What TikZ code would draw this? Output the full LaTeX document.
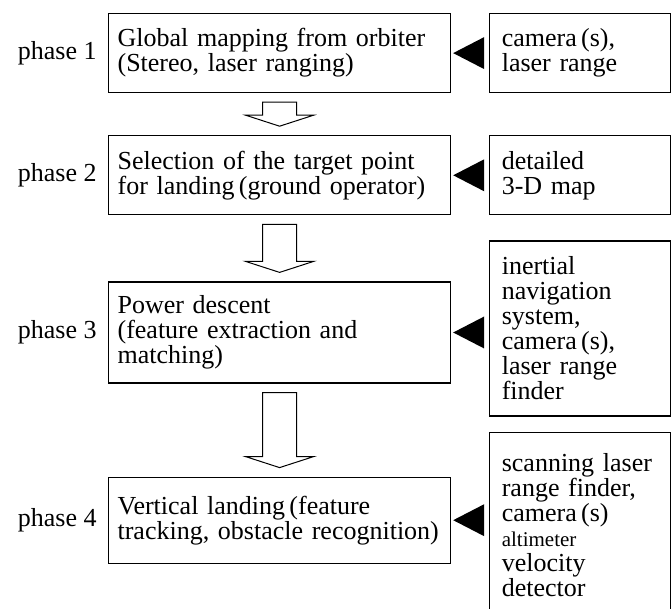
\documentclass[tikz,border=0pt]{standalone}
\usepackage{fontspec}
\setmainfont{Liberation Serif}
\usetikzlibrary{positioning,calc}
\tikzset{
  mainbox/.style={draw, line width=0.6pt, rectangle, align=left, text width=162pt, inner xsep=4.5pt, inner ysep=6pt, font=\fontsize{13}{12.5}\selectfont},
  srcbox/.style={draw, line width=0.6pt, rectangle, align=left, text width=78.5pt, inner xsep=6pt, inner ysep=6pt, font=\fontsize{13}{12.5}\selectfont},
  phaselbl/.style={inner sep=0pt, font=\fontsize{13}{12.5}\selectfont},
  hollow/.style={draw, line width=0.5pt, fill=white},
  feed/.style={fill=black}
}

\begin{document}
\begin{tikzpicture}
  \clip (0,0) rectangle (335.5pt,-304.5pt);
  % phases
  \node[mainbox, anchor=north west, minimum height=39.5pt] (b1) at (54pt,-6.5pt) {Global mapping from orbiter\\(Stereo, laser ranging)};
  \node[mainbox, below=21pt of b1, minimum height=39.5pt] (b2) {Selection of the target point\\for landing\,(ground operator)};
  \node[mainbox, below=33pt of b2, minimum height=50.5pt] (b3) {Power descent\\(feature extraction and\\matching)};
  \node[mainbox, below=46.5pt of b3, minimum height=43pt] (b4) {Vertical landing\,(feature\\tracking, obstacle recognition)};
  \node[phaselbl, left=5.5pt of b1] (p1) {phase 1};
  \node[phaselbl, left=5.5pt of b2] (p2) {phase 2};
  \node[phaselbl, left=5.5pt of b3] (p3) {phase 3};
  \node[phaselbl, left=5.5pt of b4] (p4) {phase 4};
  % sensors
  \node[srcbox, right=19pt of b1, minimum height=39.5pt] (r1) {camera\,(s),\\laser range};
  \node[srcbox, right=19pt of b2, minimum height=39.5pt] (r2) {detailed\\3-D map};
  \node[srcbox, right=19pt of b3, minimum height=87.5pt, yshift=2pt] (r3) {inertial\\navigation\\system,\\camera\,(s),\\laser range\\finder};
  \node[srcbox, right=19pt of b4, minimum height=93pt, yshift=-2.5pt] (r4) {scanning laser\\range finder,\\camera\,(s)\\{\fontsize{10.5}{12.5}\selectfont altimeter}\\velocity\\detector};
  % inputs
  \fill[feed] ($(b1.east)+(1pt,0)$) -- ($(b1.east -| r1.west)+(-2.5pt,8pt)$) -- ($(b1.east -| r1.west)+(-2.5pt,-8pt)$) -- cycle;
  \fill[feed] ($(b2.east)+(1pt,0)$) -- ($(b2.east -| r2.west)+(-2.5pt,8pt)$) -- ($(b2.east -| r2.west)+(-2.5pt,-8pt)$) -- cycle;
  \fill[feed] ($(b3.east)+(1pt,0)$) -- ($(b3.east -| r3.west)+(-2.5pt,8pt)$) -- ($(b3.east -| r3.west)+(-2.5pt,-8pt)$) -- cycle;
  \fill[feed] ($(b4.east)+(1pt,0)$) -- ($(b4.east -| r4.west)+(-2.5pt,8pt)$) -- ($(b4.east -| r4.west)+(-2.5pt,-8pt)$) -- cycle;
  % flow
  \draw[hollow] let \p1=(b1.south), \p2=(b2.north) in (\x1-8.5pt,\y1-4.5pt) -- (\x1-8.5pt,\y2+10pt) -- (\x1-17pt,\y2+10pt) -- (\x1,\y2+4.5pt) -- (\x1+17pt,\y2+10pt) -- (\x1+8.5pt,\y2+10pt) -- (\x1+8.5pt,\y1-4.5pt) -- cycle;
  \draw[hollow] let \p1=(b2.south), \p2=(b3.north) in (\x1-8.5pt,\y1-4.5pt) -- (\x1-8.5pt,\y2+10pt) -- (\x1-17pt,\y2+10pt) -- (\x1,\y2+4.5pt) -- (\x1+17pt,\y2+10pt) -- (\x1+8.5pt,\y2+10pt) -- (\x1+8.5pt,\y1-4.5pt) -- cycle;
  \draw[hollow] let \p1=(b3.south), \p2=(b4.north) in (\x1-8.5pt,\y1-4.5pt) -- (\x1-8.5pt,\y2+10pt) -- (\x1-17pt,\y2+10pt) -- (\x1,\y2+4.5pt) -- (\x1+17pt,\y2+10pt) -- (\x1+8.5pt,\y2+10pt) -- (\x1+8.5pt,\y1-4.5pt) -- cycle;
\end{tikzpicture}
\end{document}
